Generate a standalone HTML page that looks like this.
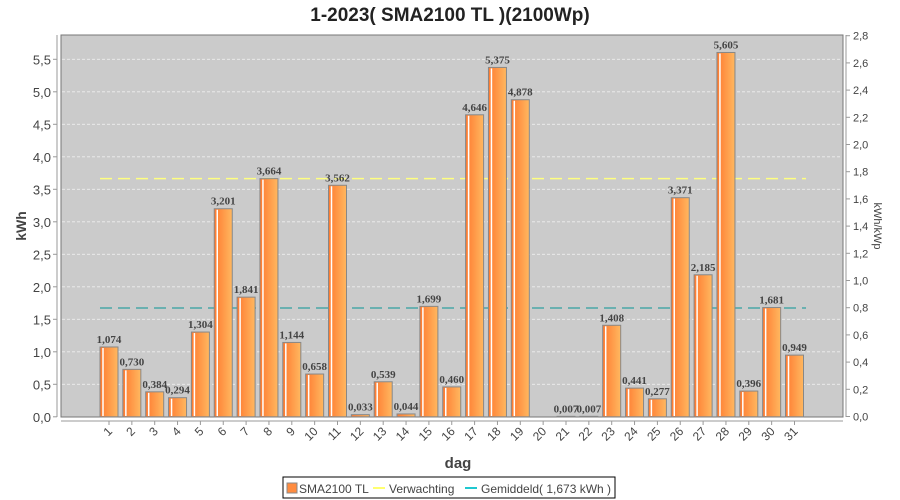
<!DOCTYPE html><html><head><meta charset="utf-8"><style>body{margin:0;background:#fff}svg{display:block;font-family:"Liberation Sans",sans-serif}</style></head><body>
<svg id="s" width="900" height="500" xmlns="http://www.w3.org/2000/svg">
<defs><linearGradient id="g" x1="0" x2="1"><stop offset="0" stop-color="#ff7a30"/><stop offset="1" stop-color="#ffb860"/></linearGradient></defs>
<text x="450" y="21" text-anchor="middle" font-size="19" font-weight="bold" fill="#222">1-2023( SMA2100 TL )(2100Wp)</text>
<rect x="61" y="35" width="782" height="382" fill="#cbcbcb" stroke="#777"/>
<g id="c"></g>
<text x="458" y="468" text-anchor="middle" font-size="15" font-weight="bold" fill="#444">dag</text>
<text transform="translate(26,226) rotate(-90)" text-anchor="middle" font-size="14" font-weight="bold" fill="#444">kWh</text>
<text transform="translate(874,226) rotate(90)" text-anchor="middle" font-size="11" fill="#444">kWh/kWp</text>
<rect x="283" y="477" width="332" height="21" fill="#fff" stroke="#000"/>
<rect x="287" y="483" width="10" height="10" fill="#ff8c40" stroke="#888"/>
<text x="299" y="493" font-size="12" fill="#444">SMA2100 TL</text>
<line x1="373" y1="488" x2="385" y2="488" stroke="#ffff70" stroke-width="2"/>
<text x="389" y="493" font-size="12" fill="#444">Verwachting</text>
<line x1="465" y1="488" x2="477" y2="488" stroke="#20c8d0" stroke-width="2"/>
<text x="481" y="493" font-size="12" fill="#444">Gemiddeld( 1,673 kWh )</text>
</svg>
<script>
var d=[1.074,0.730,0.384,0.294,1.304,3.201,1.841,3.664,1.144,0.658,3.562,0.033,0.539,0.044,1.699,0.460,4.646,5.375,4.878,0,0.007,0.007,1.408,0.441,0.277,3.371,2.185,5.605,0.396,1.681,0.949];
var h='',Y=function(v){return 416.8-v*65};
for(var i=0;i<=11;i++){var y=Y(i*0.5);if(i)h+='<line x1="62" x2="842" y1="'+y+'" y2="'+y+'" stroke="#eee" stroke-dasharray="3,2" stroke-width="0.8"/>';
h+='<line x1="53" x2="57" y1="'+y+'" y2="'+y+'" stroke="#999"/><text x="51" y="'+(y+5)+'" text-anchor="end" font-size="13" fill="#444">'+(i*0.5).toFixed(1).replace('.',',')+'</text>';}
h+='<line x1="57" x2="57" y1="35" y2="417" stroke="#999"/><line x1="846" x2="846" y1="35" y2="417" stroke="#999"/><line x1="61" x2="843" y1="421" y2="421" stroke="#999"/>';
for(var i=0;i<=14;i++){var y=416.5-i*27.2;h+='<line x1="846" x2="850" y1="'+y+'" y2="'+y+'" stroke="#999"/><text x="853" y="'+(y+4)+'" font-size="11" fill="#444">'+(i*0.2).toFixed(1).replace('.',',')+'</text>';}
h+='<line x1="100" x2="806" y1="'+Y(3.664)+'" y2="'+Y(3.664)+'" stroke="#ffff80" stroke-width="1.5" stroke-dasharray="12,6"/>';
h+='<line x1="100" x2="806" y1="'+Y(1.673)+'" y2="'+Y(1.673)+'" stroke="#4aa8a8" stroke-width="1.5" stroke-dasharray="12,6"/>';
for(var i=0;i<31;i++){var x=109+i*22.85,v=d[i],y=Y(v);
h+='<rect x="'+(x-9)+'" y="'+y+'" width="18" height="'+(416.8-y)+'" fill="url(#g)" stroke="#888"/>';
if(v>0.05)h+='<line x1="'+(x-6)+'" x2="'+(x-6)+'" y1="'+(y+1)+'" y2="416" stroke="#fff" stroke-width="1.5"/>';
if(v>0)h+='<text x="'+x+'" y="'+(y-4)+'" text-anchor="middle" font-family="Liberation Serif" font-weight="bold" font-size="11" fill="#444">'+v.toFixed(3).replace('.',',')+'</text>';
h+='<line x1="'+x+'" x2="'+x+'" y1="421" y2="425" stroke="#999"/><text transform="translate('+(x+4)+',432) rotate(-45)" text-anchor="end" font-size="12" fill="#444">'+(i+1)+'</text>';}
document.getElementById('c').innerHTML=h;
</script></body></html>
